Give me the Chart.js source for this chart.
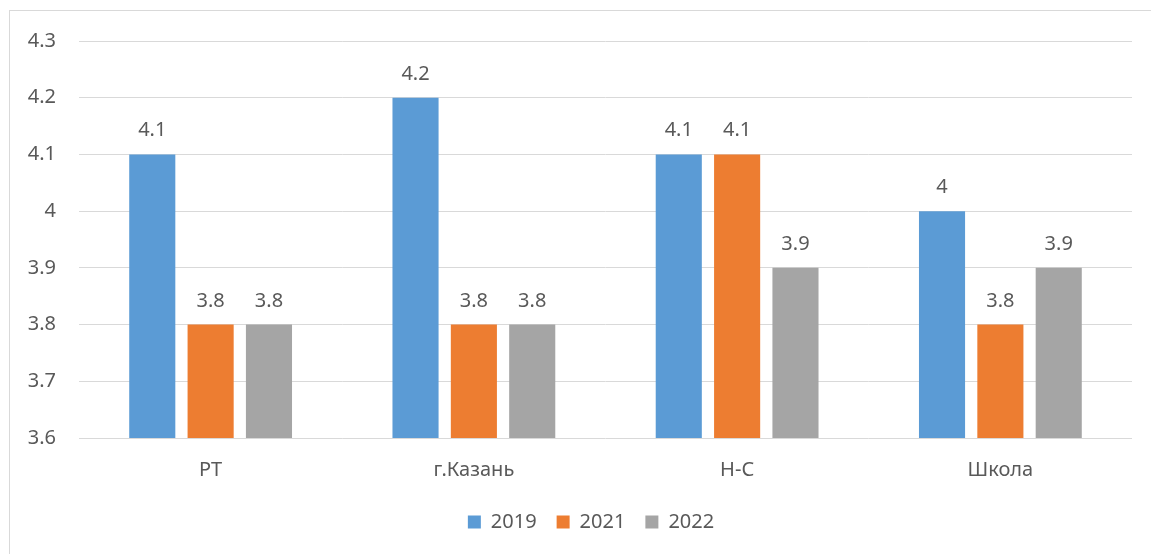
<!DOCTYPE html>
<html>
<head>
<meta charset="utf-8">
<script src="https://cdn.jsdelivr.net/npm/chart.js@4.4.1/dist/chart.umd.min.js"></script>
<style>
  html, body { margin: 0; padding: 0; background: #fff; }
  #wrap { position: relative; width: 1151px; height: 554px; overflow: hidden; }
  #frame { position: absolute; left: 9px; top: 10px; width: 1200px; height: 600px;
           border-left: 1px solid #d9d9d9; border-top: 1px solid #d9d9d9; }
  canvas { position: absolute; left: 0; top: 0; }
</style>
</head>
<body>
<div id="wrap">
  <div id="frame"></div>
  <canvas id="chart" width="1151" height="554"></canvas>
</div>
<script>
// данные
const categories = ["РТ", "г.Казань", "Н-С", "Школа"];
const values2019 = [4.1, 4.2, 4.1, 4.0];
const values2021 = [3.8, 3.8, 4.1, 3.8];
const values2022 = [3.8, 3.8, 3.9, 3.9];
const seriesNames = ["2019", "2021", "2022"];

const textClr = "#595959";
const fontFamily = "'Noto Sans', 'Open Sans', sans-serif";

// подписи значений над столбцами
const valueLabels = {
  id: "valueLabels",
  afterDatasetsDraw(chart) {
    const ctx = chart.ctx;
    ctx.save();
    ctx.font = "20px " + fontFamily;
    ctx.fillStyle = textClr;
    ctx.textAlign = "center";
    ctx.textBaseline = "alphabetic";
    chart.data.datasets.forEach((ds, i) => {
      chart.getDatasetMeta(i).data.forEach((bar, j) => {
        const v = ds.data[j];
        ctx.fillText(String(v), bar.x, bar.y - 18);
      });
    });
    ctx.restore();
  }
};

// легенда чуть правее центра холста
const shiftLegend = {
  id: "shiftLegend",
  afterLayout(chart) {
    if (chart.legend) {
      chart.legend.left += 25;
      chart.legend.right += 25;
    }
  }
};

const ctx = document.getElementById("chart").getContext("2d");
new Chart(ctx, {
  type: "bar",
  data: {
    labels: categories,
    datasets: [
      { label: seriesNames[0], data: values2019, backgroundColor: "#5b9bd5" },
      { label: seriesNames[1], data: values2021, backgroundColor: "#ed7d31" },
      { label: seriesNames[2], data: values2022, backgroundColor: "#a5a5a5" },
    ],
  },
  options: {
    responsive: false,
    animation: false,
    layout: { padding: { left: 0, right: 19, top: 41, bottom: 12 } },
    datasets: { bar: { barPercentage: 0.79, categoryPercentage: 0.665 } },
    scales: {
      y: {
        min: 3.6,
        max: 4.3,
        ticks: {
          stepSize: 0.1,
          padding: 23,
          color: textClr,
          font: { family: fontFamily, size: 20 },
          callback: (v) => String(Math.round(v * 10) / 10),
        },
        grid: { color: "#d9d9d9", drawTicks: false },
        border: { display: false },
        afterFit: (scale) => { scale.width = 79; },
      },
      x: {
        ticks: {
          padding: 12,
          color: textClr,
          font: { family: fontFamily, size: 20 },
        },
        grid: { display: false },
        border: { display: false },
        afterFit: (scale) => { scale.height -= 2; },
      },
    },
    plugins: {
      legend: {
        position: "bottom",
        labels: {
          boxWidth: 13,
          boxHeight: 13,
          padding: 20,
          color: textClr,
          font: { family: fontFamily, size: 20 },
        },
      },
      tooltip: { enabled: false },
    },
  },
  plugins: [valueLabels, shiftLegend],
});
</script>
</body>
</html>
